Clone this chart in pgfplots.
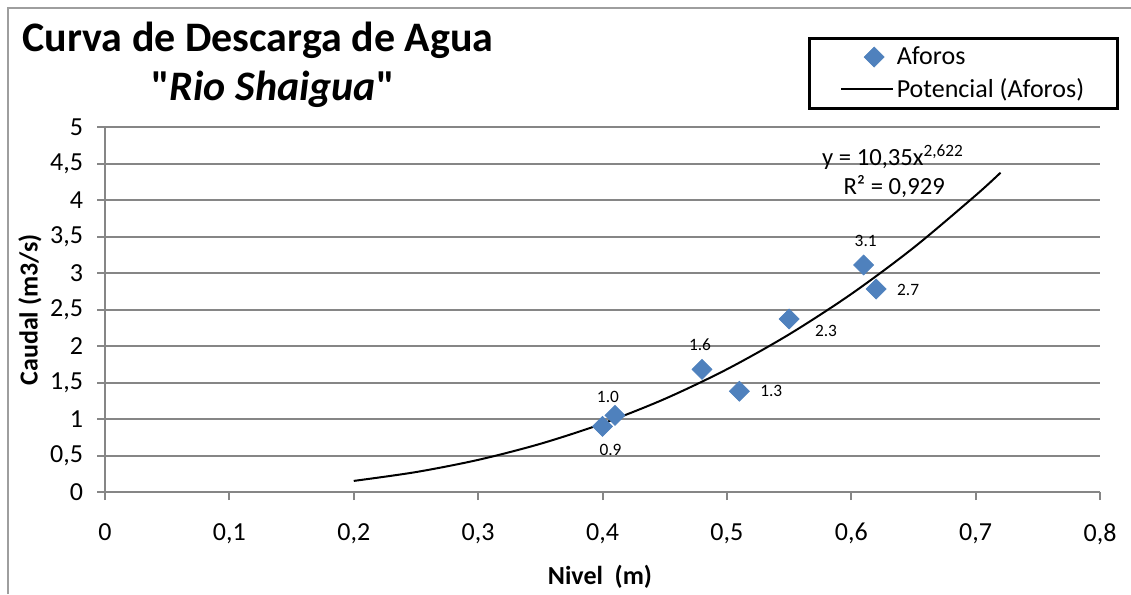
\documentclass[border=0pt]{standalone}
\usepackage{fontspec}
\setmainfont{Carlito}
\newfontfamily\qfont{Carlito}[Ligatures=TeXOff]
\usepackage{pgfplots}
\pgfplotsset{compat=1.18}
\definecolor{gridgray}{HTML}{868686}
\definecolor{xlblue}{HTML}{4F81BD}
\newcommand{\tfont}{\fontsize{19.5}{23}\selectfont}
\pgfplotsset{
    marklegend/.style={legend image code/.code={\path (0pt,0pt) (39pt,0pt);
        \draw[##1] plot coordinates {(24.75pt,0pt)};}},
    linelegend/.style={legend image code/.code={\draw[##1] (0pt,0pt) -- (39pt,0pt);}},
}
\begin{document}
\begin{tikzpicture}
% chart frame (left and top edges only are visible)
\draw[gridgray!80, line width=1.5pt] (6pt,0pt) -- (6pt,439.5pt) -- (848.25pt,439.5pt);

\begin{axis}[
    at={(78.75pt,76.5pt)}, anchor=south west,
    scale only axis,
    width=746.25pt, height=273.75pt,
    xmin=0, xmax=0.8, ymin=0, ymax=5,
    xtick={0,0.1,0.2,0.3,0.4,0.5,0.6,0.7,0.8},
    ytick={0,0.5,1,1.5,2,2.5,3,3.5,4,4.5,5},
    axis lines=left,
    axis line style={-, gridgray, line width=1.5pt},
    ymajorgrids,
    grid style={gridgray, line width=1.5pt},
    tick align=outside,
    major tick length=6pt,
    tick style={gridgray, line width=1.5pt},
    ticklabel style={font=\tfont},
    xticklabel style={yshift=-14pt},
    yticklabel style={xshift=-7pt},
    /pgf/number format/.cd, use comma, assume math mode=true,
    /pgfplots/.cd,
    xlabel={Nivel~~(m)},
    ylabel={Caudal (m3/s)},
    label style={font=\tfont\bfseries},
    xlabel style={at={(axis description cs:0.4975,-0.233)}, anchor=center},
    ylabel style={at={(axis description cs:-0.0754,0.4986)}, anchor=center},
    legend style={at={(0.7065,1.2466)}, anchor=north west,
        draw=black, line width=2.25pt, font=\tfont,
        inner xsep=23pt, inner ysep=4.5pt,
        row sep=4.5pt, cells={anchor=west}},
    legend cell align=left,
]
\addplot[only marks, mark=square*, mark size=5.3pt, line width=0.5pt,
    mark options={rotate=45, fill=xlblue, draw=xlblue}, marklegend]
coordinates {(0.40,0.90) (0.41,1.05) (0.48,1.68) (0.51,1.38) (0.55,2.37) (0.61,3.11) (0.62,2.78)};
\addlegendentry{Aforos}

\addplot[black, line width=1.5pt, smooth, mark=none, linelegend]
coordinates {(0.20,0.152) (0.25,0.273) (0.30,0.440) (0.35,0.660) (0.40,0.937)
    (0.45,1.275) (0.50,1.681) (0.55,2.159) (0.60,2.712) (0.65,3.345)
    (0.70,4.063) (0.72,4.374)};
\addlegendentry{Potencial (Aforos)}

% data labels
\begin{scope}[every node/.style={font=\fontsize{13}{15}\selectfont}]
\node at (axis cs:0.40,0.90) [xshift=6pt, yshift=-18pt] {0.9};
\node at (axis cs:0.41,1.05) [xshift=-5.25pt, yshift=13.5pt] {1.0};
\node at (axis cs:0.48,1.68) [xshift=-1.5pt, yshift=18.75pt] {1.6};
\node at (axis cs:0.51,1.38) [xshift=24pt, yshift=0pt] {1.3};
\node at (axis cs:0.55,2.37) [xshift=27.75pt, yshift=-9pt] {2.3};
\node at (axis cs:0.61,3.11) [xshift=1.5pt, yshift=18pt] {3.1};
\node at (axis cs:0.62,2.78) [xshift=24pt, yshift=-0.75pt] {2.7};
\end{scope}

% trendline equation
\node[font=\fontsize{18.5}{22}\selectfont] at (axis cs:0.6335,4.589) {y = 10,35x\textsuperscript{2,622}};
\node[font=\fontsize{18.5}{22}\selectfont] at (axis cs:0.6345,4.19) {R² = 0,929};
\end{axis}

% title
\node[font=\fontsize{31.5}{37}\selectfont\bfseries] at (193.5pt,415.5pt) {Curva de Descarga de Agua};
\node[font=\fontsize{31.5}{37}\selectfont\bfseries] at (204.75pt,378.5pt) {{\qfont"}\textit{Rio Shaigua}{\qfont"}};

\pgfresetboundingbox
\path[use as bounding box] (0pt,0pt) rectangle (848.25pt,445.5pt);
\end{tikzpicture}
\end{document}
